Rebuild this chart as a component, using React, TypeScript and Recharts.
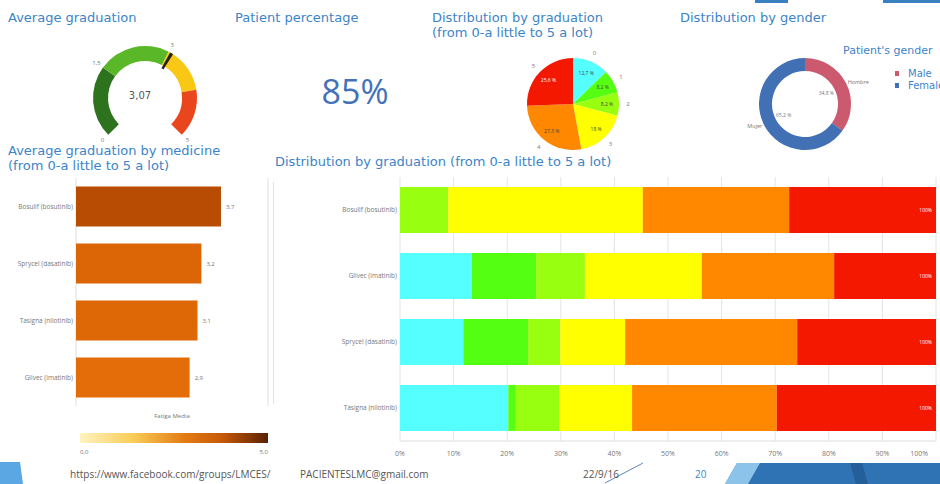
import React from "react";
import { PieChart, Pie, Cell, Label, BarChart, Bar, XAxis, YAxis, CartesianGrid, LabelList, Legend } from "recharts";

const TITLE = "#3c84c8";
const FONT = "'DejaVu Sans', sans-serif";
const SMALL = "'Open Sans', sans-serif";
const RAD = Math.PI / 180;

// gauge
const gaugeSegments = [
  { from: 0, to: 1.5, color: "#2d731e" },
  { from: 1.5, to: 3, color: "#5ab828" },
  { from: 3, to: 4, color: "#f8c814" },
  { from: 4, to: 5, color: "#ea461e" },
];
const gaugeTicks = [0, 1.5, 3, 5];
const gaugeValue = 3.07;
const patientPercentage = 85;

// graduation pie
const grades = ["0", "1", "2", "3", "4", "5"];
const gradeColors = ["#55ffff", "#55ff11", "#99ff11", "#ffff00", "#ff8800", "#f41800"];
const gradeShares = [12.7, 8.2, 8.2, 18, 27.3, 25.6];

// gender donut
const genderLabels = ["Hombre", "Mujer"];
const genderLegend = ["Male", "Female"];
const genderShares = [34.8, 65.2];
const genderColors = ["#cc5a6e", "#4170b4"];

// average by medicine
const medicines = ["Bosulif (bosutinib)", "Sprycel (dasatinib)", "Tasigna (nilotinib)", "Glivec (imatinib)"];
const medicineAverages = [3.7, 3.2, 3.1, 2.9];
const medicineColors = ["#b84c02", "#dc6505", "#de6706", "#e46d0a"];

// distribution by medicine (percent per grade)
const distMedicines = ["Bosulif (bosutinib)", "Glivec (imatinib)", "Sprycel (dasatinib)", "Tasigna (nilotinib)"];
const grade0 = [0, 13.4, 11.8, 20.2];
const grade1 = [0, 12.0, 12.1, 1.4];
const grade2 = [9.0, 9.1, 6.0, 8.1];
const grade3 = [36.3, 21.8, 12.1, 13.6];
const grade4 = [27.3, 24.7, 32.1, 27.0];
const grade5 = [27.4, 19.0, 25.9, 29.7];
const percentTicks = [0, 10, 20, 30, 40, 50, 60, 70, 80, 90, 100];

const comma = (v: number, d?: number) => (d == null ? String(v) : v.toFixed(d)).replace(".", ",");
const pct = (v: number) => (Number.isInteger(v) ? String(v) : comma(v, 1)) + " %";

const gaugeData = gaugeSegments.map((s) => ({ ...s, value: s.to - s.from }));
const needleData = [
  { value: gaugeValue - 0.035, fill: "transparent" },
  { value: 0.07, fill: "#222" },
  { value: 5 - gaugeValue - 0.035, fill: "transparent" },
];
const gradeData = grades.map((g, i) => ({ name: g, value: gradeShares[i] }));
const genderData = genderLabels.map((g, i) => ({ name: g, legend: genderLegend[i], value: genderShares[i] }));
const avgData = medicines.map((m, i) => ({ name: m, value: medicineAverages[i] }));
const gradeSeries = [grade0, grade1, grade2, grade3, grade4, grade5];
const distData = distMedicines.map((m, i) => {
  const row: any = { name: m };
  gradeSeries.forEach((s, g) => (row["g" + g] = s[i]));
  row.total = gradeSeries.reduce((a, s) => a + s[i], 0);
  return row;
});

function gaugeTickLabel(props: any) {
  const { cx, cy, startAngle, endAngle, index } = props;
  const seg = gaugeSegments[index];
  const r = 60;
  const out: any[] = [];
  const put = (angle: number, v: number, key: string) =>
    out.push(
      <text key={key} x={cx + r * Math.cos(-angle * RAD)} y={cy + r * Math.sin(-angle * RAD)} fill="#777" fontSize={6}
        fontFamily={SMALL} textAnchor="middle" dominantBaseline="central">{comma(v)}</text>
    );
  if (gaugeTicks.includes(seg.from)) put(startAngle, seg.from, "s");
  if (index === gaugeSegments.length - 1 && gaugeTicks.includes(seg.to)) put(endAngle, seg.to, "e");
  return <g>{out}</g>;
}

function gradeLabel(props: any) {
  const { cx, cy, midAngle, outerRadius, index, value } = props;
  const c = Math.cos(-midAngle * RAD), s = Math.sin(-midAngle * RAD);
  return (
    <g fontFamily={SMALL}>
      <text x={cx + (outerRadius + 9) * c} y={cy + (outerRadius + 9) * s} fontSize={6} fill="#777" textAnchor="middle" dominantBaseline="central">{grades[index]}</text>
      <text x={cx + outerRadius * 0.74 * c} y={cy + outerRadius * 0.74 * s} fontSize={5} fill={index === 5 ? "#fff" : "#444"} textAnchor="middle" dominantBaseline="central">{pct(value)}</text>
    </g>
  );
}

function genderLabel(props: any) {
  const { cx, cy, midAngle, outerRadius, index, value } = props;
  const c = Math.cos(-midAngle * RAD), s = Math.sin(-midAngle * RAD);
  return (
    <g fontFamily={SMALL} fill="#777">
      <text x={cx + (outerRadius + 2) * c} y={cy + (outerRadius + 2) * s} fontSize={5.5} textAnchor={c >= 0 ? "start" : "end"} dominantBaseline="central">{genderLabels[index]}</text>
      <text x={cx + 24 * c} y={cy + 24 * s} fontSize={5} textAnchor="middle" dominantBaseline="central">{pct(value)}</text>
    </g>
  );
}

function GenderLegend({ payload }: any) {
  const items = [...(payload || [])].sort((a: any, b: any) => genderLegend.indexOf(a.value) - genderLegend.indexOf(b.value));
  return (
    <div style={{ fontFamily: FONT, color: TITLE }}>
      <div style={{ fontSize: 11, lineHeight: "15px" }}>Patient's gender</div>
      <div style={{ marginLeft: 52, marginTop: 9 }}>
        {items.map((p: any) => (
          <div key={p.value} style={{ display: "flex", alignItems: "center", height: 12, fontSize: 10 }}>
            <span style={{ width: 4, height: 5, background: p.color, marginRight: 9 }} />
            {p.value}
          </div>
        ))}
      </div>
    </div>
  );
}

function CategoryTick(props: any) {
  const { x, y, payload } = props;
  return (
    <text x={x} y={y} dy="0.35em" textAnchor="end" fontSize={6.5} fill="#777" fontFamily={SMALL}>
      {payload.value}
    </text>
  );
}

function PercentTick(props: any) {
  const { x, y, payload } = props;
  const last = payload.value === 100;
  return (
    <text x={x} y={y + 7} fill="#777" fontSize={7} fontFamily={SMALL} textAnchor={last ? "end" : "middle"}>
      {payload.value}%
    </text>
  );
}

const title = (text: React.ReactNode, left: number, top: number) => (
  <div style={{ position: "absolute", left, top, color: TITLE, fontSize: 13, lineHeight: "15px", fontFamily: FONT, whiteSpace: "nowrap" }}>
    {text}
  </div>
);

const footerText = (text: string, left: number, color = "#555") => (
  <div style={{ position: "absolute", left, top: 467, fontSize: 10, lineHeight: "14px", fontFamily: SMALL, color, whiteSpace: "nowrap" }}>
    {text}
  </div>
);

export default function App() {
  return (
    <div style={{ position: "absolute", left: 0, top: 0, width: 940, height: 484, background: "#fff", overflow: "hidden", fontFamily: FONT }}>
      {title("Average graduation", 8, 10)}
      {title("Patient percentage", 235, 10)}
      {title(<>Distribution by graduation<br />(from 0-a little to 5 a lot)</>, 432, 10)}
      {title("Distribution by gender", 680, 10)}
      {title(<>Average graduation by medicine<br />(from 0-a little to 5 a lot)</>, 8, 143)}
      {title("Distribution by graduation (from 0-a little to 5 a lot)", 275, 154)}

      <div style={{ position: "absolute", left: 60, top: 35 }}>
        <PieChart width={160} height={120}>
          <Pie data={gaugeData} dataKey="value" cx={80} cy={58} startAngle={225} endAngle={-45} innerRadius={37} outerRadius={52}
            stroke="none" isAnimationActive={false} label={gaugeTickLabel} labelLine={false}>
            {gaugeData.map((d, i) => <Cell key={i} fill={d.color} />)}
            <Label value={comma(gaugeValue, 2)} position="center" fill="#555" fontSize={10} fontFamily={FONT} />
          </Pie>
          <Pie data={needleData} dataKey="value" cx={80} cy={58} startAngle={225} endAngle={-45} innerRadius={34} outerRadius={52}
            stroke="none" isAnimationActive={false}>
            {needleData.map((d, i) => <Cell key={i} fill={d.fill} />)}
          </Pie>
        </PieChart>
      </div>

      <div style={{ position: "absolute", left: 300, top: 70, width: 110, textAlign: "center", fontSize: 34, lineHeight: "42px", fontFamily: SMALL, color: "#4372b8" }}>
        {patientPercentage}%
      </div>

      <div style={{ position: "absolute", left: 498, top: 40 }}>
        <PieChart width={140} height={120}>
          <Pie data={gradeData} dataKey="value" cx={70} cy={59} startAngle={90} endAngle={-270} outerRadius={46}
            stroke="none" isAnimationActive={false} label={gradeLabel} labelLine={false}>
            {gradeData.map((d, i) => <Cell key={i} fill={gradeColors[i]} />)}
          </Pie>
        </PieChart>
      </div>

      <div style={{ position: "absolute", left: 730, top: 40 }}>
        <PieChart width={210} height={120}>
          <Pie data={genderData} dataKey="value" nameKey="legend" cx={70} cy={59} startAngle={90} endAngle={-270} innerRadius={33} outerRadius={46}
            stroke="none" isAnimationActive={false} label={genderLabel} labelLine={false}>
            {genderData.map((d, i) => <Cell key={i} fill={genderColors[i]} />)}
          </Pie>
          <Legend content={<GenderLegend />} wrapperStyle={{ left: 113, top: 3, width: 110 }} />
        </PieChart>
      </div>

      <div style={{ position: "absolute", left: 0, top: 170 }}>
        <BarChart width={275} height={256} data={avgData} layout="vertical" barCategoryGap="15%" margin={{ top: 8, right: 7, bottom: 0, left: 0 }}>
          <CartesianGrid horizontal={false} stroke="#dedede" />
          <XAxis type="number" domain={[0, 4.9]} ticks={[0, 2, 4.9]} tick={false} axisLine={false} tickLine={false} height={20}
            label={{ value: "Fatiga Media", position: "center", fontSize: 6, fill: "#777", fontFamily: SMALL }} />
          <YAxis type="category" dataKey="name" width={76} axisLine={false} tickLine={false} tickSize={0} tickMargin={3}
            tick={<CategoryTick />} />
          <Bar dataKey="value" isAnimationActive={false}>
            {avgData.map((d, i) => <Cell key={i} fill={medicineColors[i]} />)}
            <LabelList dataKey="value" position="right" offset={5} formatter={(v: any) => comma(Number(v), 1)} fontSize={6} fill="#777" fontFamily={SMALL} />
          </Bar>
        </BarChart>
      </div>

      <div style={{ position: "absolute", left: 80, top: 433, width: 188, height: 10, background: "linear-gradient(to right, #fff3c0, #f9cd5a 28%, #e47c14 55%, #c85a08 75%, #5a2104)" }} />
      <div style={{ position: "absolute", left: 80, top: 448, fontSize: 6, fontFamily: SMALL, color: "#777" }}>0,0</div>
      <div style={{ position: "absolute", left: 254, top: 448, width: 14, textAlign: "right", fontSize: 6, fontFamily: SMALL, color: "#777" }}>5,0</div>

      <div style={{ position: "absolute", left: 273, top: 182, width: 1, height: 222, background: "#e2e2e2" }} />

      <div style={{ position: "absolute", left: 273, top: 170 }}>
        <BarChart width={667} height={291} data={distData} layout="vertical" barCategoryGap="15%" margin={{ top: 7, right: 4, bottom: 0, left: 0 }}>
          <CartesianGrid horizontal={false} stroke="#e4e4e4" />
          <XAxis type="number" domain={[0, 100]} ticks={percentTicks} tick={<PercentTick />} tickLine={false} axisLine={{ stroke: "#dedede" }} height={20} />
          <YAxis type="category" dataKey="name" width={127} axisLine={false} tickLine={false} tickSize={0} tickMargin={3}
            tick={<CategoryTick />} />
          {gradeColors.map((c, g) => (
            <Bar key={g} dataKey={"g" + g} stackId="a" fill={c} isAnimationActive={false}>
              {g === gradeColors.length - 1 && (
                <LabelList dataKey="total" position="insideRight" offset={4} formatter={(v: any) => Math.round(Number(v)) + "%"} fontSize={5} fill="#fff" fontFamily={SMALL} />
              )}
            </Bar>
          ))}
        </BarChart>
      </div>

      <svg style={{ position: "absolute", left: 0, top: 0 }} width={940} height={484}>
        <polygon points="0,462 20,462 23,484 0,484" fill="#5ba7e3" />
        <line x1={605} y1={483} x2={643} y2={463} stroke="#5b86b8" strokeWidth={1} />
        <polygon points="737,463 940,463 940,484 725,484" fill="#2f73b4" />
        <polygon points="737,463 760,463 748,484 725,484" fill="#8cc3ea" />
        <polygon points="850,463 862,463 868,484 856,484" fill="#255f99" />
        <polygon points="755,0 940,0 940,3 755,3" fill="#3a7fc0" />
        <rect x={788} y={0} width={95} height={3} fill="#fff" />
      </svg>

      {footerText("https://www.facebook.com/groups/LMCES/", 70)}
      {footerText("PACIENTESLMC@gmail.com", 300)}
      {footerText("22/9/16", 583)}
      {footerText("20", 695, "#3c84c8")}
    </div>
  );
}
